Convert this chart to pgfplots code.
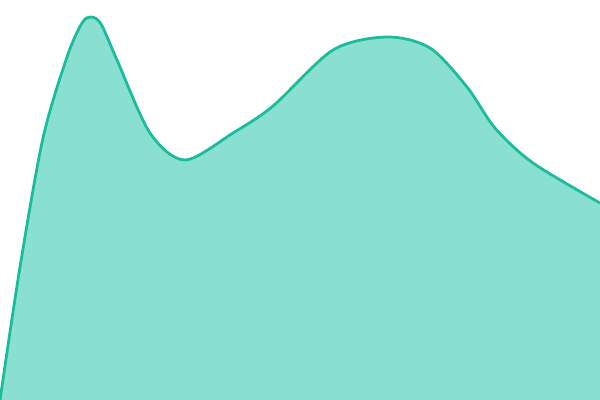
\documentclass[border=0pt]{standalone}
\usepackage{pgfplots}
\pgfplotsset{compat=1.18}
\definecolor{lineteal}{RGB}{26,188,156}
\definecolor{fillteal}{RGB}{138,224,208}
\pgfplotstableread{
x y
0 0
20 133
43 262
67 343
82 377
91 383
101 376
117 340
150 267
185 240
233 267
273 294
333 350
387 363
430 352
467 313
495 272
533 237
600 197
}\curve
\begin{document}
\begin{tikzpicture}
\begin{axis}[
  scale only axis,
  width=6in, height=4in,
  xmin=0, xmax=600, ymin=0, ymax=400,
  hide axis,
  clip=true,
]
\coordinate (sw) at (rel axis cs:0,0);
\coordinate (ne) at (rel axis cs:1,1);
\addplot[smooth, draw=none, fill=fillteal] table {\curve} \closedcycle;
\addplot[smooth, lineteal, line width=2pt] table {\curve};
\end{axis}
\pgfresetboundingbox
\path (sw) rectangle (ne);
\end{tikzpicture}
\end{document}
